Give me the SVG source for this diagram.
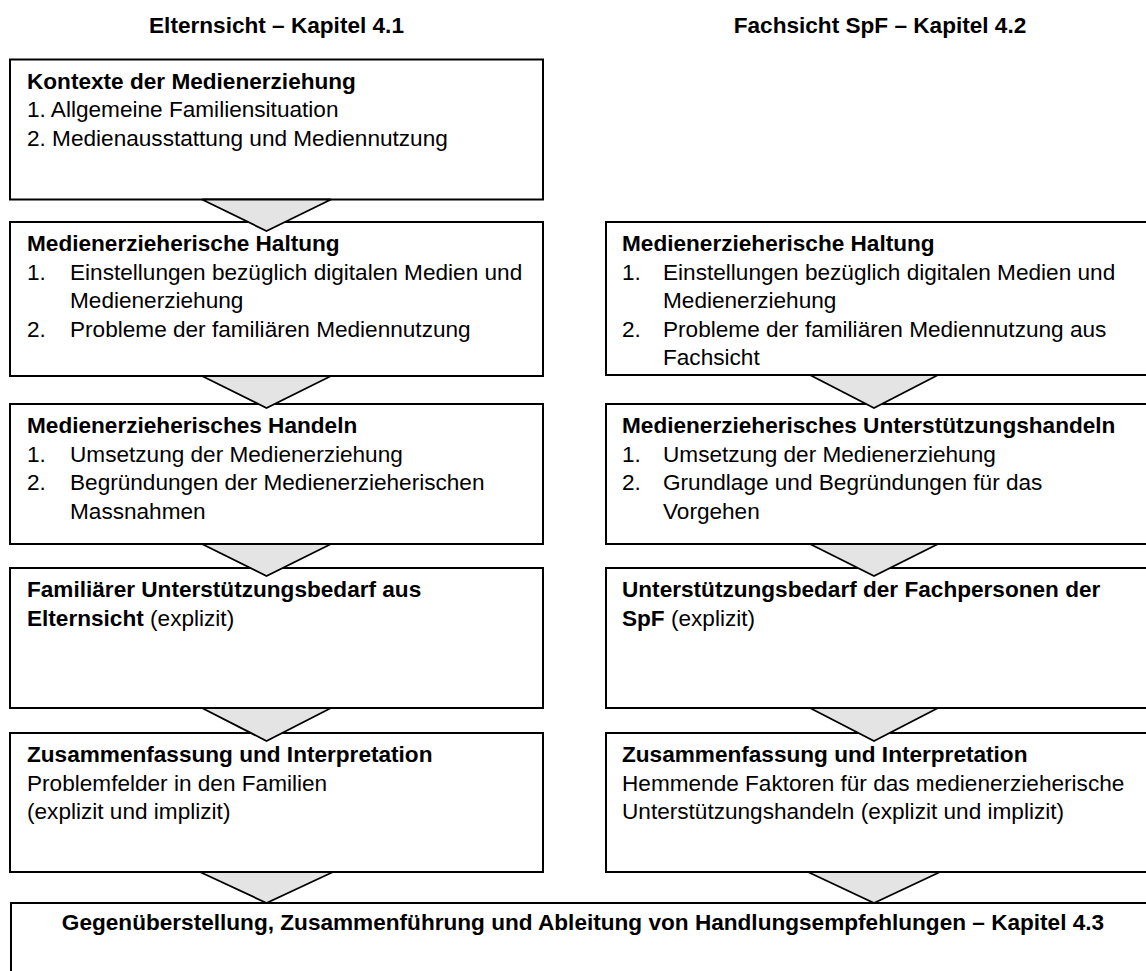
<svg xmlns="http://www.w3.org/2000/svg" width="1146" height="971" viewBox="0 0 1146 971">
<style>
.box{fill:#fff;stroke:#000;stroke-width:2}
.tri{fill:#e4e4e4;stroke:#000;stroke-width:1.8;stroke-linejoin:miter}
text{font-family:"Liberation Sans",Arial,sans-serif;font-size:22.6px;fill:#000}
.b{font-weight:bold}
.c{text-anchor:middle}
</style>
<rect width="1146" height="971" fill="#fff"/>
<g id="headers">
<text class="b c" x="276.5" y="33">Elternsicht – Kapitel 4.1</text>
<text class="b c" x="880" y="33">Fachsicht SpF – Kapitel 4.2</text>
</g>
<g id="L1">
<rect class="box" x="10" y="59.5" width="533" height="140"/>
<text class="b" x="27" y="88.5">Kontexte der Medienerziehung</text>
<text x="27" y="117">1. Allgemeine Familiensituation</text>
<text x="27" y="145.5">2. Medienausstattung und Mediennutzung</text>
</g>
<g id="L2">
<rect class="box" x="10" y="222" width="533" height="154"/>
<text class="b" x="27" y="251">Medienerzieherische Haltung</text>
<text x="27" y="279.5">1.</text><text x="70" y="279.5">Einstellungen bezüglich digitalen Medien und</text>
<text x="70" y="308">Medienerziehung</text>
<text x="27" y="336.5">2.</text><text x="70" y="336.5">Probleme der familiären Mediennutzung</text>
</g>
<g id="L3">
<rect class="box" x="10" y="404" width="533" height="140"/>
<text class="b" x="27" y="433">Medienerzieherisches Handeln</text>
<text x="27" y="461.5">1.</text><text x="70" y="461.5">Umsetzung der Medienerziehung</text>
<text x="27" y="490">2.</text><text x="70" y="490">Begründungen der Medienerzieherischen</text>
<text x="70" y="518.5">Massnahmen</text>
</g>
<g id="L4">
<rect class="box" x="10" y="568" width="533" height="140"/>
<text class="b" x="27" y="597">Familiärer Unterstützungsbedarf aus</text>
<text x="27" y="625.5"><tspan class="b">Elternsicht</tspan> (explizit)</text>
</g>
<g id="L5">
<rect class="box" x="10" y="733" width="533" height="139"/>
<text class="b" x="27" y="762">Zusammenfassung und Interpretation</text>
<text x="27" y="790.5">Problemfelder in den Familien</text>
<text x="27" y="819">(explizit und implizit)</text>
</g>
<g id="R2">
<rect class="box" x="606" y="222" width="560" height="153"/>
<text class="b" x="622" y="251">Medienerzieherische Haltung</text>
<text x="622" y="279.5">1.</text><text x="663" y="279.5">Einstellungen bezüglich digitalen Medien und</text>
<text x="663" y="308">Medienerziehung</text>
<text x="622" y="336.5">2.</text><text x="663" y="336.5">Probleme der familiären Mediennutzung aus</text>
<text x="663" y="365">Fachsicht</text>
</g>
<g id="R3">
<rect class="box" x="606" y="404" width="560" height="140"/>
<text class="b" x="622" y="433">Medienerzieherisches Unterstützungshandeln</text>
<text x="622" y="461.5">1.</text><text x="663" y="461.5">Umsetzung der Medienerziehung</text>
<text x="622" y="490">2.</text><text x="663" y="490">Grundlage und Begründungen für das</text>
<text x="663" y="518.5">Vorgehen</text>
</g>
<g id="R4">
<rect class="box" x="606" y="568" width="560" height="140"/>
<text class="b" x="622" y="597">Unterstützungsbedarf der Fachpersonen der</text>
<text x="622" y="625.5"><tspan class="b">SpF</tspan> (explizit)</text>
</g>
<g id="R5">
<rect class="box" x="606" y="733" width="560" height="139"/>
<text class="b" x="622" y="762">Zusammenfassung und Interpretation</text>
<text x="622" y="790.5">Hemmende Faktoren für das medienerzieherische</text>
<text x="622" y="819">Unterstützungshandeln (explizit und implizit)</text>
</g>
<g id="F">
<rect class="box" x="11" y="903" width="1160" height="100"/>
<text class="b c" x="583" y="930">Gegenüberstellung, Zusammenführung und Ableitung von Handlungsempfehlungen – Kapitel 4.3</text>
</g>
<g id="connectors">
<polygon class="tri" points="202,199.5 331,199.5 266.5,231"/>
<polygon class="tri" points="202,376 331,376 266.5,408"/>
<polygon class="tri" points="202,544 331,544 266.5,576"/>
<polygon class="tri" points="202,708 331,708 266.5,741"/>
<polygon class="tri" points="200,872 333,872 266.5,903"/>
<polygon class="tri" points="810,375 938,375 874,408"/>
<polygon class="tri" points="810,544 938,544 874,576"/>
<polygon class="tri" points="810,708 938,708 874,741"/>
<polygon class="tri" points="808,872 940,872 874,903"/>
</g>
</svg>
